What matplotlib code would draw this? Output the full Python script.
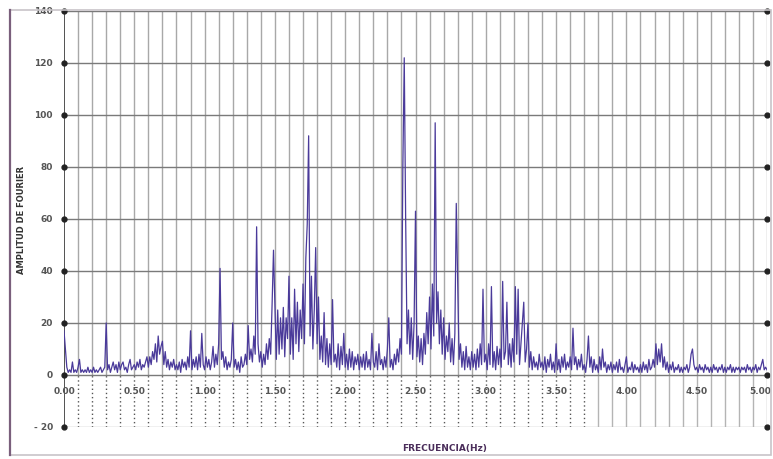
import numpy as np
import matplotlib
matplotlib.use("Agg")
import matplotlib.pyplot as plt
from matplotlib.patches import Rectangle
from matplotlib.lines import Line2D

# Espectro de amplitudes de Fourier, paso de 0.01 Hz (0.00 a 5.00 Hz)
DF = 0.01
AMPLITUD = [
    17, 10, 3, 1, 2, 1, 5, 1, 2, 1,
    3, 6, 1, 2, 1, 2, 1, 3, 1, 2,
    1, 3, 1, 2, 1, 2, 3, 1, 2, 3,
    20, 2, 4, 1, 3, 5, 2, 4, 1, 5,
    2, 4, 5, 2, 3, 1, 4, 6, 2, 3,
    4, 2, 5, 3, 6, 2, 4, 3, 5, 7,
    3, 7, 4, 9, 6, 12, 5, 15, 8, 11,
    13, 4, 9, 3, 6, 2, 5, 3, 6, 2,
    4, 2, 5, 1, 6, 3, 5, 2, 7, 3,
    17, 2, 6, 3, 7, 2, 8, 3, 16, 4,
    2, 7, 3, 6, 2, 5, 11, 3, 8, 4,
    12, 41, 6, 9, 3, 7, 2, 5, 3, 6,
    20, 3, 6, 2, 5, 1, 7, 3, 4, 8,
    4, 19, 6, 10, 5, 15, 8, 57, 12, 5,
    9, 3, 8, 4, 12, 6, 14, 8, 27, 48,
    27, 6, 25, 8, 22, 10, 26, 7, 22, 14,
    38, 8, 22, 6, 33, 12, 28, 9, 25, 14,
    35, 12, 45, 58, 92, 15, 38, 10, 25, 49,
    12, 30, 6, 15, 5, 24, 4, 14, 3, 12,
    4, 29, 5, 8, 3, 12, 2, 11, 4, 16,
    3, 8, 2, 10, 3, 9, 2, 7, 4, 8,
    2, 7, 3, 8, 2, 9, 3, 6, 2, 16,
    5, 3, 9, 2, 12, 4, 6, 2, 7, 3,
    10, 22, 3, 6, 2, 8, 4, 10, 5, 14,
    8, 80, 122, 60, 12, 25, 8, 22, 6, 20,
    63, 7, 15, 5, 14, 4, 16, 8, 24, 12,
    30, 10, 35, 15, 97, 20, 32, 12, 25, 8,
    22, 6, 15, 9, 20, 5, 14, 4, 16, 66,
    35, 6, 12, 3, 9, 2, 11, 3, 7, 2,
    9, 3, 8, 2, 10, 3, 12, 4, 33, 5,
    8, 2, 12, 4, 34, 3, 9, 2, 11, 4,
    10, 3, 36, 6, 9, 28, 4, 12, 3, 14,
    5, 34, 8, 33, 4, 12, 20, 28, 5, 10,
    20, 3, 9, 2, 7, 3, 5, 2, 8, 3,
    5, 2, 7, 1, 6, 3, 8, 2, 5, 1,
    12, 2, 6, 1, 7, 3, 8, 2, 5, 3,
    7, 2, 18, 4, 7, 2, 6, 3, 8, 2,
    4, 1, 6, 15, 3, 7, 1, 6, 2, 4,
    1, 7, 2, 10, 3, 5, 1, 4, 2, 5,
    1, 4, 2, 5, 1, 6, 2, 3, 1, 4,
    7, 1, 3, 2, 5, 1, 4, 2, 3, 1,
    4, 1, 5, 2, 4, 1, 6, 2, 3, 6,
    3, 12, 4, 10, 5, 12, 3, 7, 2, 5,
    1, 4, 2, 5, 1, 3, 2, 4, 1, 3,
    1, 3, 2, 4, 1, 3, 8, 10, 4, 2,
    3, 1, 4, 2, 3, 1, 4, 2, 3, 1,
    3, 1, 4, 2, 3, 1, 3, 2, 4, 1,
    3, 1, 3, 2, 4, 1, 3, 1, 3, 2,
    3, 1, 3, 2, 3, 1, 4, 2, 3, 1,
    3, 2, 4, 1, 3, 2, 4, 6, 2, 3,
    2,
]
FRECUENCIA = np.arange(len(AMPLITUD)) * DF

Y_TICKS = [-20, 0, 20, 40, 60, 80, 100, 120, 140]
Y_LABELS = ["- 20", "0", "20", "40", "60", "80", "100", "120", "140"]
X_TICKS = [0.0, 0.5, 1.0, 1.5, 2.0, 2.5, 3.0, 3.5, 4.0, 4.5, 5.0]
X_LABELS = ["0.00", "0.50", "1.00", "1.50", "2.00", "2.50", "3.00", "3.50",
            "4.00", "4.50", "5.00"]

W, H = 773, 459
fig = plt.figure(figsize=(W / 100, H / 100), dpi=100)
fig.patch.set_facecolor("white")

# marco exterior
fig.add_artist(Rectangle((10 / W, 4 / H), 761 / W, 445 / H, transform=fig.transFigure,
                         fill=False, edgecolor="#c8c4c8", lw=1.2))
fig.add_artist(Line2D([10 / W, 10 / W], [4 / H, 449 / H], transform=fig.transFigure,
                      color="#7a5f7c", lw=1.6))

ax = fig.add_axes([64 / W, (H - 427) / H, 703 / W, 416 / H])
ax.set_xlim(0, 5)
ax.set_ylim(-20, 140)
for s in ax.spines.values():
    s.set_visible(False)

# rejilla vertical cada 0.1 Hz
for i in range(1, 50):
    x = i * 0.1
    ax.vlines(x, 0, 140, color="#a8a8a8", lw=1.0, zorder=1)
    if x <= 3.71:
        ax.vlines(x, -20, 0, color="#555555", lw=1.0, linestyles=(0, (1, 2)), zorder=1)
    else:
        ax.vlines(x, -20, 0, color="#b4b4b4", lw=1.0, zorder=1)

# rejilla horizontal
for y in Y_TICKS:
    ax.axhline(y, color="#7a7a7a" if y >= 0 else "#b4b4b4", lw=1.0, zorder=1)
ax.vlines(0, -20, 140, color="#444444", lw=1.3, zorder=3)
ax.vlines(5, -20, 140, color="#b0b0b0", lw=1.0, zorder=1)
ax.plot([0] * len(Y_TICKS), Y_TICKS, "o", ms=3.5, color="#222222", clip_on=False, zorder=4)
ax.plot([5] * len(Y_TICKS), Y_TICKS, "o", ms=3.5, color="#222222", clip_on=False, zorder=4)

ax.plot(FRECUENCIA, AMPLITUD, color="#4a3a9a", lw=0.9, zorder=5)

ax.set_xticks([])
ax.set_yticks(Y_TICKS)
ax.set_yticklabels(Y_LABELS, fontsize=6.5, fontweight="bold", color="#555555")
ax.tick_params(axis="y", length=0, pad=8)

for x, lab in zip(X_TICKS, X_LABELS):
    ha = "right" if x == 5.0 else "center"
    xpos = 5.03 if x == 5.0 else x
    ax.text(xpos, -6.5, lab, ha=ha, va="center", fontsize=6.5,
            fontweight="bold", color="#555555", zorder=6, clip_on=False)

fig.text(22 / W, 1 - 220 / H, "AMPLITUD DE FOURIER", rotation=90, ha="center",
         va="center", fontsize=6, fontweight="bold", color="#333333")
fig.text(445 / W, 1 - 449 / H, "FRECUENCIA(Hz)", ha="center", va="center",
         fontsize=6.5, fontweight="bold", color="#4a2d5a")

fig.savefig("out.png", dpi=100)
